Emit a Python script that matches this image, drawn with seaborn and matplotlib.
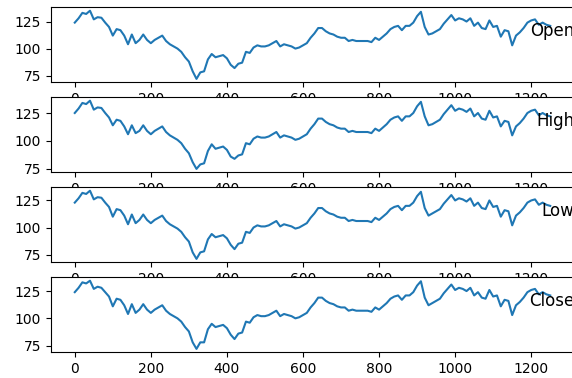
import numpy as np
import pandas as pd
import matplotlib
matplotlib.use("Agg")
import matplotlib.pyplot as plt
import seaborn as sns

# values, one point every 10 rows
step = 10
open_vals = [124, 128, 133, 132, 135, 127, 129, 128.5, 124, 120,
             112, 118, 117, 112, 104, 113, 105, 108, 113, 108,
             105, 108, 110, 112, 107, 104, 102, 100, 97, 92,
             88, 79, 72, 78, 79, 90, 95, 92, 93, 94,
             91, 85, 82, 86, 87, 97, 96, 101, 103, 102,
             102, 103, 105, 107, 102, 104, 103, 102, 100, 101,
             103, 105, 110, 114, 119, 119, 116, 114, 113, 111,
             110, 110, 107, 108, 107, 107, 107, 107, 106, 110,
             108, 111, 114, 118, 120, 121, 117, 121, 121, 124,
             130, 134, 120, 113, 114, 116, 118, 123, 127, 131,
             126, 128, 127, 125, 128, 121, 124, 119, 118, 126,
             120, 121, 111, 117, 116, 103, 112, 115, 119, 124,
             126, 127, 122, 124, 122, 121]
high_vals = [125, 129, 134, 133, 136, 128, 130, 129.5, 125, 121,
             114, 119, 118, 113, 106, 114, 107, 109, 114, 109,
             106, 109, 111, 113, 108, 105, 103, 101, 98, 93,
             89, 81, 75, 79, 80, 91, 97, 93, 94, 95,
             92, 86, 84, 87, 88, 98, 97, 102, 104, 103,
             103, 104, 106, 108, 103, 105, 104, 103, 101, 102,
             104, 106, 111, 115, 120, 120, 117, 115, 114, 112,
             111, 111, 108, 109, 108, 108, 108, 108, 107, 111,
             109, 112, 115, 119, 121, 122, 118, 122, 122, 125,
             131, 135, 122, 114, 115, 117, 119, 124, 128, 132,
             127, 129, 128, 126, 129, 122, 125, 120, 119, 127,
             121, 122, 113, 118, 117, 105, 113, 116, 120, 125,
             127, 128, 123, 125, 123, 122]
low_vals = [123, 127, 132, 131, 134, 126, 128, 127.5, 123, 119,
            110, 117, 116, 111, 103, 112, 104, 107, 112, 107,
            104, 107, 109, 111, 106, 103, 101, 99, 96, 91,
            87, 77, 71, 77, 78, 89, 94, 91, 92, 93,
            90, 84, 80, 85, 86, 96, 95, 100, 102, 101,
            101, 102, 104, 106, 101, 103, 102, 101, 99, 100,
            102, 104, 109, 113, 118, 118, 115, 113, 112, 110,
            109, 109, 106, 107, 106, 106, 106, 106, 105, 109,
            107, 110, 113, 117, 119, 120, 116, 120, 120, 123,
            129, 133, 118, 111, 113, 115, 117, 122, 126, 130,
            125, 127, 126, 124, 127, 120, 123, 118, 117, 125,
            119, 120, 110, 116, 115, 102, 111, 114, 118, 123,
            125, 126, 121, 123, 121, 120]
close_vals = [124, 128, 133, 132, 134.5, 127, 129, 128, 124, 120,
              111, 118, 117, 112, 104, 113, 105, 108, 113, 108,
              105, 108, 110, 112, 107, 104, 102, 100, 97, 92,
              88, 78, 72, 78, 78, 90, 95, 92, 93, 94,
              91, 85, 81, 86, 87, 97, 96, 101, 103, 102,
              102, 103, 105, 107, 102, 104, 103, 102, 100, 101,
              103, 105, 110, 114, 119, 119, 116, 114, 113, 111,
              110, 110, 107, 108, 107, 107, 107, 107, 106, 110,
              108, 111, 114, 118, 120, 121, 117, 121, 121, 124,
              130, 134, 119, 112, 114, 116, 118, 123, 127, 131,
              126, 128, 127, 125, 128, 121, 124, 119, 118, 126,
              120, 121, 111, 117, 116, 103, 112, 115, 119, 124,
              126, 127, 122, 124, 122, 121]

names = ["Open", "High", "Low", "Close"]
df = pd.DataFrame({"Open": open_vals, "High": high_vals,
                   "Low": low_vals, "Close": close_vals})
df.index = df.index * step

W, H = 572, 378
fig = plt.figure(figsize=(W / 100, H / 100), dpi=100)

# right spine sits right at the image edge, as in the cropped original
left, right = 51, 574
for i, name in enumerate(names):
    top = 7.3 + 90 * i
    ax = fig.add_axes([left / W, 1 - (top + 75) / H, (right - left) / W, 75 / H])
    sns.lineplot(x=df.index, y=df[name], ax=ax)
    ax.set_xlabel("")
    ax.set_ylabel("")
    ax.set_title(name, y=0.5, loc="right")

fig.savefig("out.png", dpi=100)
